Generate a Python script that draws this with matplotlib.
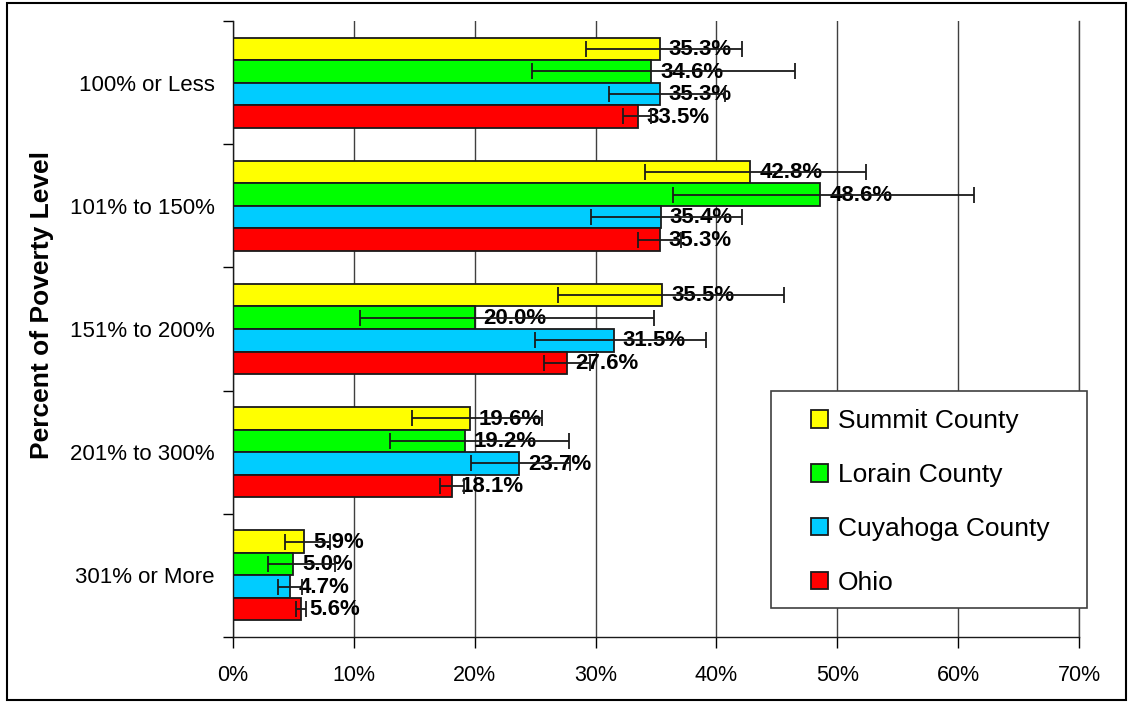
import matplotlib
matplotlib.use("Agg")
import matplotlib.pyplot as plt
import numpy as np
from matplotlib.patches import Rectangle
from matplotlib.ticker import FixedLocator, FuncFormatter

plt.rcParams['font.family'] = ['Liberation Sans', 'DejaVu Sans']

categories = ['100% or Less', '101% to 150%', '151% to 200%', '201% to 300%', '301% or More']
series = ['Summit County', 'Lorain County', 'Cuyahoga County', 'Ohio']
colors = ['#FFFF00', '#00FF00', '#00CCFF', '#FF0000']

# values and confidence limits (percent)
summit = [35.3, 42.8, 35.5, 19.6, 5.9]
summit_lo = [29.2, 34.1, 26.9, 14.8, 4.3]
summit_hi = [42.1, 52.4, 45.6, 25.6, 8.0]
lorain = [34.6, 48.6, 20.0, 19.2, 5.0]
lorain_lo = [24.7, 36.4, 10.5, 13.0, 2.9]
lorain_hi = [46.5, 61.3, 34.8, 27.8, 8.4]
cuyahoga = [35.3, 35.4, 31.5, 23.7, 4.7]
cuyahoga_lo = [31.1, 29.6, 25.0, 19.7, 3.7]
cuyahoga_hi = [40.7, 42.1, 39.1, 27.9, 5.7]
ohio = [33.5, 35.3, 27.6, 18.1, 5.6]
ohio_lo = [32.3, 33.5, 25.7, 17.1, 5.2]
ohio_hi = [34.6, 37.1, 29.5, 19.1, 6.0]

vals = [summit, lorain, cuyahoga, ohio]
los = [summit_lo, lorain_lo, cuyahoga_lo, ohio_lo]
his = [summit_hi, lorain_hi, cuyahoga_hi, ohio_hi]

fig = plt.figure(figsize=(11.32, 7.04), dpi=100)
ax = fig.add_axes([233/1132, 1-637/704, (1079-233)/1132, (637-21)/704])

h = 0.183
y = np.arange(len(categories))
handles = []
for j in range(4):
    v = np.array(vals[j])
    yy = y + (j - 1.5) * h
    b = ax.barh(yy, v, height=h, color=colors[j], edgecolor='#1a1a1a',
                linewidth=1.3, zorder=2, label=series[j])
    handles.append(b)
    err = [v - np.array(los[j]), np.array(his[j]) - v]
    ax.errorbar(v, yy, xerr=err, fmt='none', ecolor='#1a1a1a', elinewidth=1.3,
                capsize=6, capthick=1.3, zorder=4)
    for xv, yv in zip(v, yy):
        ax.annotate(f'{xv:.1f}%', (xv, yv), xytext=(6.5, -0.5), textcoords='offset points',
                    ha='left', va='center', fontsize=16, fontweight='bold', zorder=3)

ax.set_xlim(0, 70)
ax.set_ylim(len(categories) - 0.5, -0.5)
ax.set_xticks(np.arange(0, 71, 10))
ax.xaxis.set_major_formatter(FuncFormatter(lambda x, p: f'{int(x)}%'))
ax.tick_params(axis='x', length=8, width=1, pad=12, labelsize=15.5, direction='out')

ax.yaxis.set_major_locator(FixedLocator(np.arange(-0.5, len(categories), 1)))
ax.yaxis.set_major_formatter(FuncFormatter(lambda x, p: ''))
ax.yaxis.set_minor_locator(FixedLocator(y))
ax.set_yticklabels(categories, minor=True)
ax.tick_params(axis='y', which='major', length=7, width=1, direction='out')
ax.tick_params(axis='y', which='minor', length=0, pad=13, labelsize=16)

ax.grid(axis='x', color='#404040', linewidth=1, zorder=0)
ax.axvline(70, color='#404040', linewidth=1, zorder=0, clip_on=False)
ax.set_axisbelow(True)
for s in ['top', 'right']:
    ax.spines[s].set_visible(False)
for s in ['left', 'bottom']:
    ax.spines[s].set_color('#1a1a1a')
    ax.spines[s].set_linewidth(1)

fig.text(42/1132, 1-305/704, 'Percent of Poverty Level', rotation=90, ha='center', va='center',
         fontsize=19, fontweight='bold')

# legend frame
fig.patches.append(Rectangle((771/1132, 1-608/704), (1087-771)/1132, (608-391)/704,
                             transform=fig.transFigure, facecolor='white', edgecolor='#404040',
                             linewidth=1.2, zorder=5))
leg = fig.legend(handles=handles, labels=series, loc='upper left',
                 bbox_to_anchor=(798/1132, 1-396/704), frameon=False, fontsize=19,
                 handlelength=0.65, handleheight=0.65, handletextpad=0.35,
                 labelspacing=1.13, borderpad=0)
leg.set_zorder(6)

# outer border
fig.patches.append(Rectangle((7/1132, 1-700/704), 1119/1132, 697/704,
                             transform=fig.transFigure, fill=False, edgecolor='black',
                             linewidth=1.5))

fig.savefig('out.png', dpi=100)
